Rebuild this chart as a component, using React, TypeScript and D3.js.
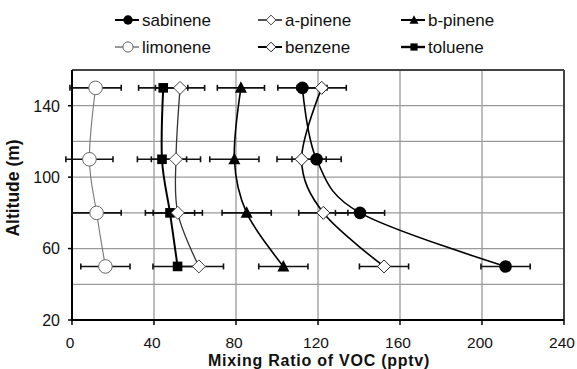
import React from 'react';
import * as d3 from 'd3';

const altitudes = [150, 110, 80, 50];
const sabinene = [112.4, 119.3, 140.5, 211.5];
const aPinene = [52.7, 50.7, 51.6, 61.9];
const bPinene = [82.4, 79.2, 85.2, 103.1];
const limonene = [11.5, 8.5, 12, 16.3];
const benzene = [121.8, 112, 122.6, 152.2];
const toluene = [44.5, 43.9, 47.8, 51.5];
const errSabinene = [12, 12, 12, 12];
const errAPinene = [12, 12, 12, 12];
const errBPinene = [11.5, 12, 12, 12];
const errLimonene = [12.5, 11.5, 12, 12];
const errBenzene = [12, 12, 12, 12];
const errToluene = [12, 12, 12, 12];

const xTicks = [0, 40, 80, 120, 160, 200, 240];
const yTicks = [20, 60, 100, 140];
const yGrid = [40, 60, 80, 100, 120, 140];

type Marker = 'circleFill' | 'circleOpen' | 'diamond' | 'triangle' | 'square';

interface Series {
  name: string;
  values: number[];
  errs: number[];
  marker: Marker;
  lineColor: string;
  lineWidth: number;
  markerStroke: string;
}

const series: Series[] = [
  { name: 'limonene', values: limonene, errs: errLimonene, marker: 'circleOpen', lineColor: '#777', lineWidth: 1.1, markerStroke: '#666' },
  { name: 'toluene', values: toluene, errs: errToluene, marker: 'square', lineColor: '#000', lineWidth: 2, markerStroke: '#000' },
  { name: 'a-pinene', values: aPinene, errs: errAPinene, marker: 'diamond', lineColor: '#333', lineWidth: 1.3, markerStroke: '#444' },
  { name: 'b-pinene', values: bPinene, errs: errBPinene, marker: 'triangle', lineColor: '#000', lineWidth: 1.6, markerStroke: '#000' },
  { name: 'benzene', values: benzene, errs: errBenzene, marker: 'diamond', lineColor: '#000', lineWidth: 1.6, markerStroke: '#222' },
  { name: 'sabinene', values: sabinene, errs: errSabinene, marker: 'circleFill', lineColor: '#000', lineWidth: 1.6, markerStroke: '#000' },
];

const legendRows = [
  ['sabinene', 'a-pinene', 'b-pinene'],
  ['limonene', 'benzene', 'toluene'],
];

function MarkerShape({ type, x, y, s = 1, stroke }: { type: Marker; x: number; y: number; s?: number; stroke: string }) {
  if (type === 'circleFill') return <circle cx={x} cy={y} r={6.3 * s} fill="#000" />;
  if (type === 'circleOpen') return <circle cx={x} cy={y} r={6.8 * s} fill="#fff" stroke={stroke} strokeWidth={1} />;
  if (type === 'diamond') {
    const d = 6.5 * s;
    return <path d={`M${x},${y - d}L${x + d},${y}L${x},${y + d}L${x - d},${y}Z`} fill="#fff" stroke={stroke} strokeWidth={1} />;
  }
  if (type === 'triangle') {
    const w = 6 * s;
    return <path d={`M${x},${y - 6.5 * s}L${x + w},${y + 5 * s}L${x - w},${y + 5 * s}Z`} fill="#000" />;
  }
  const h = 4.8 * s;
  return <rect x={x - h} y={y - h} width={2 * h} height={2 * h} fill="#000" />;
}

export default function App() {
  const W = 577;
  const H = 369;
  const left = 72, right = 564, top = 70, bottom = 320;
  const x = d3.scaleLinear().domain([0, 240]).range([left, right]);
  const y = d3.scaleLinear().domain([20, 160]).range([bottom, top]);
  const line = d3
    .line<[number, number]>()
    .x((d) => x(d[0]))
    .y((d) => y(d[1]))
    .curve(d3.curveCatmullRom.alpha(0));

  const font = "'Liberation Sans', Arial, sans-serif";
  const legendX = [128, 271, 414];
  const legendY = [20, 47];

  return (
    <svg width={W} height={H} style={{ position: 'absolute', left: 0, top: 0, background: '#fff' }} fontFamily={font}>
      <rect x={0} y={0} width={W} height={H} fill="#fff" />
      {yGrid.map((v) => (
        <line key={'gy' + v} x1={left} x2={right} y1={y(v)} y2={y(v)} stroke="#9a9a9a" strokeWidth={1.3} />
      ))}
      {xTicks.slice(1, -1).map((v) => (
        <line key={'gx' + v} x1={x(v)} x2={x(v)} y1={top} y2={bottom} stroke="#9a9a9a" strokeWidth={1.3} />
      ))}
      <line x1={left} x2={right} y1={top} y2={top} stroke="#444" strokeWidth={2} />
      <line x1={right} x2={right} y1={top} y2={bottom} stroke="#444" strokeWidth={2} />
      <line x1={left} x2={left} y1={top} y2={bottom + 1} stroke="#000" strokeWidth={2} />
      <line x1={left - 1} x2={right} y1={bottom} y2={bottom} stroke="#000" strokeWidth={2} />
      {xTicks.map((v) => (
        <g key={'xt' + v}>
          <line x1={x(v)} x2={x(v)} y1={bottom} y2={bottom + 5} stroke="#000" strokeWidth={1.5} />
          <text x={x(v) - 2} y={348} textAnchor="middle" fontSize={15.5} fill="#111">
            {v}
          </text>
        </g>
      ))}
      {yTicks.map((v) => (
        <g key={'yt' + v}>
          <line x1={left - 4} x2={left} y1={y(v)} y2={y(v)} stroke="#000" strokeWidth={1.5} />
          <text x={60} y={y(v) + 5.8} textAnchor="end" fontSize={16} fill="#111">
            {v}
          </text>
        </g>
      ))}
      {series.map((s) =>
        s.values.map((v, i) => {
          const cy = y(altitudes[i]);
          const x0 = x(v - s.errs[i]);
          const x1 = x(v + s.errs[i]);
          return (
            <g key={s.name + 'e' + i} stroke="#111" strokeWidth={1.6}>
              <line x1={x0} x2={x1} y1={cy} y2={cy} />
              <line x1={x0} x2={x0} y1={cy - 3} y2={cy + 3} />
              <line x1={x1} x2={x1} y1={cy - 3} y2={cy + 3} />
            </g>
          );
        })
      )}
      {series.map((s) => (
        <path
          key={s.name + 'l'}
          d={line(s.values.map((v, i) => [v, altitudes[i]] as [number, number])) || ''}
          fill="none"
          stroke={s.lineColor}
          strokeWidth={s.lineWidth}
        />
      ))}
      {series.map((s) =>
        s.values.map((v, i) => (
          <MarkerShape key={s.name + 'm' + i} type={s.marker} x={x(v)} y={y(altitudes[i])} stroke={s.markerStroke} />
        ))
      )}
      {legendRows.map((row, r) =>
        row.map((name, c) => {
          const s = series.find((q) => q.name === name)!;
          const mx = legendX[c];
          const my = legendY[r];
          return (
            <g key={'lg' + name}>
              <line x1={mx - 13} x2={mx + 11} y1={my} y2={my} stroke={s.lineColor} strokeWidth={s.lineWidth + 0.4} />
              <MarkerShape type={s.marker} x={mx} y={my} s={0.75} stroke={s.markerStroke} />
              <text x={mx + 14} y={my + 6} fontSize={17} fill="#111">
                {name}
              </text>
            </g>
          );
        })
      )}
      <text x={(left + right) / 2 + 1} y={366} textAnchor="middle" fontSize={16} fontWeight="bold" letterSpacing={0.75} fill="#111">
        Mixing Ratio of VOC (pptv)
      </text>
      <text
        transform={`translate(19,188) rotate(-90)`}
        textAnchor="middle"
        fontSize={17.5}
        fontWeight="bold"
        fill="#111"
      >
        Altitude (m)
      </text>
    </svg>
  );
}
